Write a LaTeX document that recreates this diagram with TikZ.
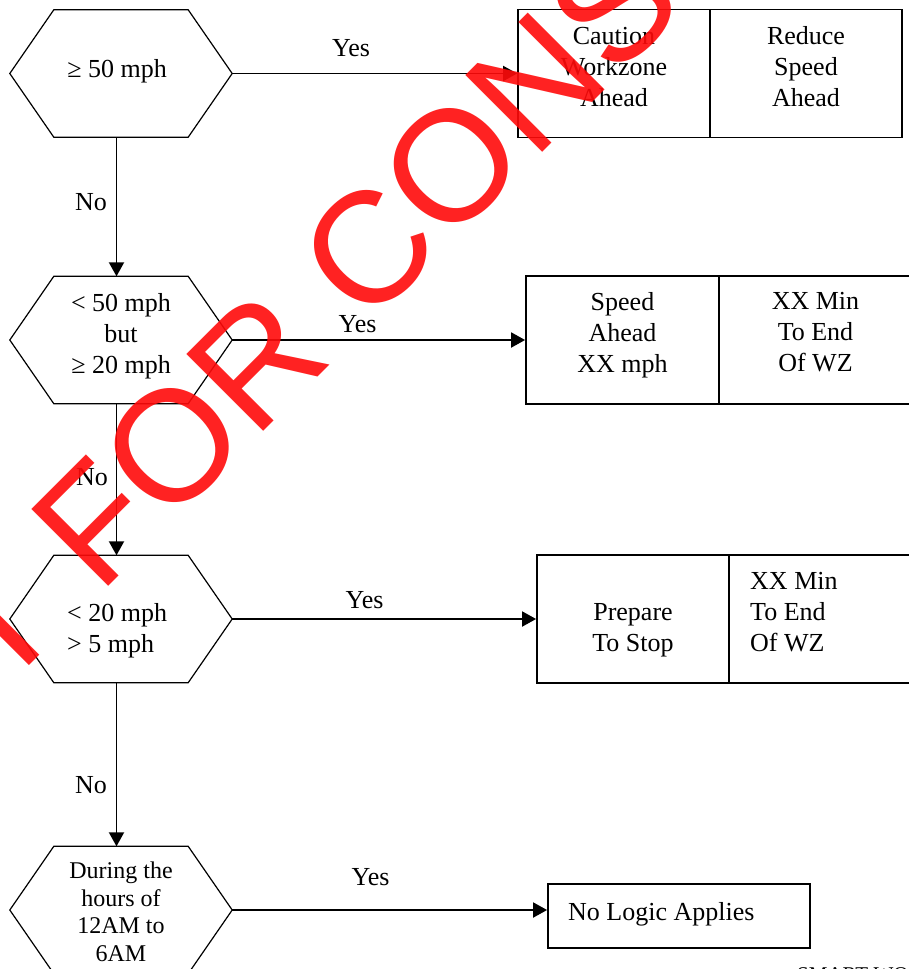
\documentclass[tikz,border=0pt]{standalone}
\usepackage{fontspec}
\setmainfont{Liberation Serif}
\newfontfamily\markfont{Liberation Sans}
\usetikzlibrary{calc,arrows.meta}
\definecolor{markred}{RGB}{255,10,10}

\tikzset{
  hexbox/.style={minimum width=222pt, minimum height=127pt, inner sep=0pt},
  hexline/.style={line width=1.2pt},
  cell/.style={draw, line width=1.8pt, minimum height=128pt, inner sep=0pt},
  txt/.style={inner sep=0pt, align=center, font=\fontsize{26}{31}\selectfont},
  flow/.style={line width=1.9pt, -{Triangle[length=14pt,width=15pt]}},
  wmark/.style={rotate=45, inner sep=0pt, text=markred, text opacity=0.9,
    font=\markfont\fontsize{158}{160}\selectfont},
}
% outline of a decision node
\newcommand{\hexout}[1]{%
  \draw[hexline] (#1.west) -- ($(#1.north west)+(44,0)$) -- ($(#1.north east)+(-44,0)$)
    -- (#1.east) -- ($(#1.south east)+(-44,0)$) -- ($(#1.south west)+(44,0)$) -- cycle;}

\begin{document}
\begin{tikzpicture}[x=1pt, y=-1pt]
  \useasboundingbox (0,0) rectangle (909,969);

  % decisions
  \node[hexbox] (q1) at (121,73.5) {};
  \node[hexbox] (q2) at (121,340) {};
  \node[hexbox] (q3) at (121,619) {};
  \node[hexbox] (q4) at (121,910) {};
  \hexout{q1} \hexout{q2} \hexout{q3} \hexout{q4}

  \node[txt, anchor=base] (h1) at (117,77) {≥ 50 mph};
  \node[txt] (h2) at (121,335.9) {< 50 mph\\but\\≥ 20 mph};
  \node[txt, anchor=west, align=left] (h3) at (67,630.4) {< 20 mph\\> 5 mph};
  \node[txt, font=\fontsize{24}{27.5}\selectfont] (h4) at (121,912)
    {During the\\hours of\\12AM to\\6AM};

  % messages
  \node[cell, minimum width=192pt] (b1a) at (614,73.5) {};
  \node[cell, minimum width=192pt] (b1b) at (806,73.5) {};
  \node[cell, minimum width=193pt] (b2a) at (622.5,340) {};
  \node[cell, minimum width=193pt] (b2b) at (815.5,340) {};
  \node[cell, minimum width=192pt] (b3a) at (633,619) {};
  \node[cell, minimum width=192pt] (b3b) at (825,619) {};
  \node[cell, minimum width=262pt, minimum height=64pt] (b4) at (679,916) {};

  \node[txt] (t1a) at (614,67.2) {Caution\\Workzone\\Ahead};
  \node[txt] (t1b) at (806,67.1) {Reduce\\Speed\\Ahead};
  \node[txt] (t2a) at (622.5,335) {Speed\\Ahead\\XX mph};
  \node[txt] (t2b) at (815.5,332.4) {XX Min\\To End\\Of WZ};
  \node[txt] (t3a) at (633,630.7) {Prepare\\To Stop};
  \node[txt, anchor=west, align=left] (t3b) at (750,612.4) {XX Min\\To End\\Of WZ};
  \node[txt, anchor=base west] (t4) at (568,920) {No Logic Applies};

  % yes branches
  \draw[flow] (q1.east) -- (b1a.west);
  \draw[flow] (q2.east) -- (b2a.west);
  \draw[flow] (q3.east) -- (b3a.west);
  \draw[flow] (q4.east) -- (q4.east -| b4.west);
  \node[txt, anchor=base] (y1) at (351,56) {Yes};
  \node[txt, anchor=base] (y2) at (357.5,332) {Yes};
  \node[txt, anchor=base] (y3) at (364.5,608) {Yes};
  \node[txt, anchor=base] (y4) at (370.5,885) {Yes};

  % no branches
  \draw[flow] ([xshift=-4.5pt]q1.south) -- ([xshift=-4.5pt]q2.north);
  \draw[flow] ([xshift=-4.5pt]q2.south) -- ([xshift=-4.5pt]q3.north);
  \draw[flow] ([xshift=-4.5pt]q3.south) -- ([xshift=-4.5pt]q4.north);
  \node[txt, anchor=base] (n1) at (91,210) {No};
  \node[txt, anchor=base] (n2) at (92,485) {No};
  \node[txt, anchor=base] (n3) at (91,793) {No};

  \node[anchor=north west, inner sep=0pt, font=\fontsize{21}{24}\selectfont]
    (foot) at (797,967) {SMART WO};

  % stamp over everything
  \node[wmark] (wm) at (511,107) {NOT FOR CONSTRUCTION};
\end{tikzpicture}
\end{document}
